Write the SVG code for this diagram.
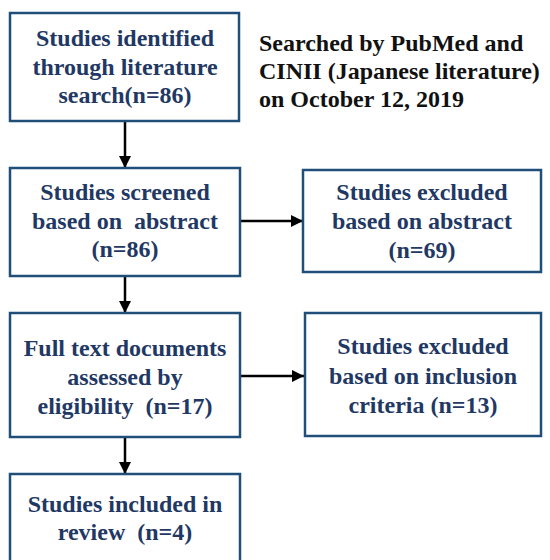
<svg xmlns="http://www.w3.org/2000/svg" width="550" height="560" viewBox="0 0 550 560">
<defs>
<marker id="ah" markerWidth="12" markerHeight="12" refX="12" refY="6" orient="auto" markerUnits="userSpaceOnUse">
<path d="M0,0 L12,6 L0,12 Z" fill="#000"/>
</marker>
<style>
.box{fill:#fff;stroke:#1f4e79;stroke-width:2.5}
.c{stroke:#000;stroke-width:2.5;fill:none;marker-end:url(#ah)}
.t{fill:#1f3864;text-anchor:middle}
.n{fill:#111}
</style>
</defs>
<rect width="550" height="560" fill="#fff"/>
<g id="connectors">
<line class="c" x1="125" y1="121" x2="125" y2="168"/>
<line class="c" x1="240" y1="221" x2="303" y2="221"/>
<line class="c" x1="125" y1="276" x2="125" y2="313"/>
<line class="c" x1="240" y1="376" x2="304" y2="376"/>
<line class="c" x1="125" y1="437" x2="125" y2="474"/>
</g>
<g font-family="Liberation Serif, 'Times New Roman', serif" font-weight="bold" font-size="24">
<g id="identified">
<rect class="box" x="10" y="13" width="229" height="108"/>
<text class="t" x="125" y="46">Studies identified</text>
<text class="t" x="125" y="75">through literature</text>
<text class="t" x="125" y="103">search(n=86)</text>
</g>
<g id="note">
<text class="n" x="259" y="51">Searched by PubMed and</text>
<text class="n" x="259" y="79">CINII (Japanese literature)</text>
<text class="n" x="259" y="107">on October 12, 2019</text>
</g>
<g id="screened">
<rect class="box" x="10" y="168" width="230" height="108"/>
<text class="t" x="125" y="200">Studies screened</text>
<text class="t" x="125" y="229" xml:space="preserve">based on  abstract</text>
<text class="t" x="125" y="257">(n=86)</text>
</g>
<g id="excluded-abstract">
<rect class="box" x="303" y="170" width="238" height="102"/>
<text class="t" x="422" y="200">Studies excluded</text>
<text class="t" x="422" y="229">based on abstract</text>
<text class="t" x="422" y="258">(n=69)</text>
</g>
<g id="fulltext">
<rect class="box" x="10" y="313" width="230" height="124"/>
<text class="t" x="125" y="356">Full text documents</text>
<text class="t" x="125" y="385">assessed by</text>
<text class="t" x="125" y="414" xml:space="preserve">eligibility  (n=17)</text>
</g>
<g id="excluded-criteria">
<rect class="box" x="305" y="313" width="236" height="123"/>
<text class="t" x="423" y="354">Studies excluded</text>
<text class="t" x="423" y="384">based on inclusion</text>
<text class="t" x="423" y="413">criteria (n=13)</text>
</g>
<g id="included">
<rect class="box" x="10" y="474" width="230" height="100"/>
<text class="t" x="125" y="512">Studies included in</text>
<text class="t" x="125" y="540" xml:space="preserve">review  (n=4)</text>
</g>
</g>
</svg>
